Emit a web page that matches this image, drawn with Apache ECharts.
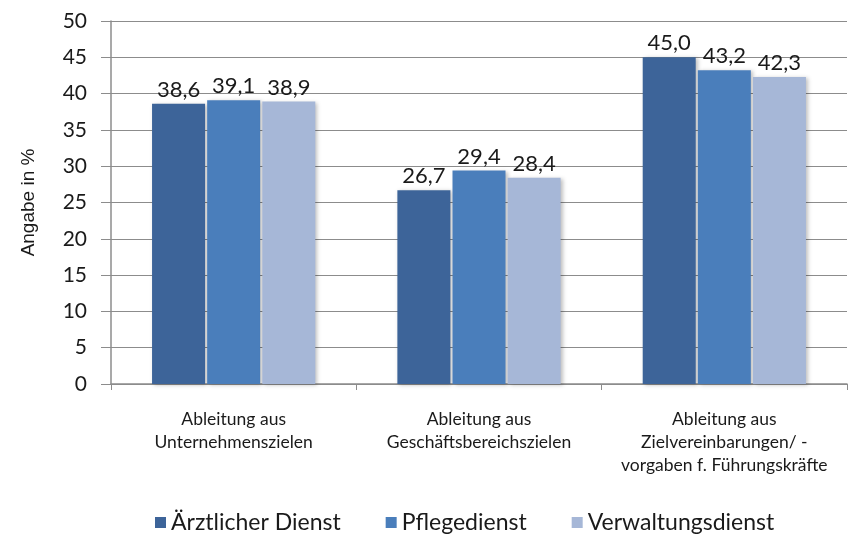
<!DOCTYPE html>
<html><head><meta charset="utf-8">
<script src="https://cdn.jsdelivr.net/npm/echarts@6/dist/echarts.min.js"></script>
<style>html,body{margin:0;padding:0;background:#fff}#c{width:848px;height:536px}</style>
</head><body><div id="c"></div>
<script>
const categories = ['Ableitung aus\nUnternehmenszielen', 'Ableitung aus\nGeschäftsbereichszielen', 'Ableitung aus\nZielvereinbarungen/ -\nvorgaben f. Führungskräfte'];
const seriesNames = ['Ärztlicher Dienst', 'Pflegedienst', 'Verwaltungsdienst'];
const aerztlich = [38.6, 26.7, 45.0];
const pflege = [39.1, 29.4, 43.2];
const verwaltung = [38.9, 28.4, 42.3];
const yTicks = [0, 5, 10, 15, 20, 25, 30, 35, 40, 45, 50];
const colors = ['#3D6499', '#4A7EBB', '#A6B7D7'];
const font = 'Lato, "Open Sans", sans-serif';
const data = [aerztlich, pflege, verwaltung];
const chart = echarts.init(document.getElementById('c'));
chart.setOption({
  animation: false,
  grid: { left: 111, right: 1, top: 21, bottom: 152 },
  legend: {
    bottom: -3, left: 150, itemWidth: 11, itemHeight: 11, itemGap: 45,
    icon: 'rect',
    textStyle: { fontFamily: font, fontSize: 23, color: '#1a1a1a' },
    data: seriesNames
  },
  xAxis: {
    type: 'category', data: categories,
    axisLine: { lineStyle: { color: '#8c8c8c', width: 1.5 } },
    axisTick: { show: true, length: 6, lineStyle: { color: '#8c8c8c' } },
    axisLabel: { fontFamily: font, fontSize: 17.5, color: '#1a1a1a', margin: 24, lineHeight: 23, interval: 0 }
  },
  yAxis: {
    type: 'value', min: yTicks[0], max: yTicks[yTicks.length - 1], interval: 5,
    name: 'Angabe in %', nameLocation: 'middle', nameGap: 73,
    nameTextStyle: { fontFamily: 'Liberation Sans, Arial, sans-serif', fontSize: 19, color: '#1a1a1a' },
    axisLine: { show: true, lineStyle: { color: '#8c8c8c', width: 1.5 } },
    axisTick: { show: true, inside: false, length: 10, lineStyle: { color: '#8c8c8c' } },
    axisLabel: { fontFamily: font, fontSize: 21, color: '#1a1a1a', margin: 24 },
    splitLine: { lineStyle: { color: '#8c8c8c', width: 1.2 } }
  },
  series: seriesNames.map((n, i) => ({
    name: n, type: 'bar', data: data[i],
    barWidth: 53, barGap: '4%',
    itemStyle: { color: colors[i], shadowColor: 'rgba(0,0,0,0.25)', shadowBlur: 4, shadowOffsetX: 2, shadowOffsetY: 1 },
    label: {
      show: true, position: 'top', distance: 3,
      fontFamily: font, fontSize: 22, color: '#1a1a1a',
      formatter: p => p.value.toFixed(1).replace('.', ',')
    }
  }))
});
</script></body></html>
